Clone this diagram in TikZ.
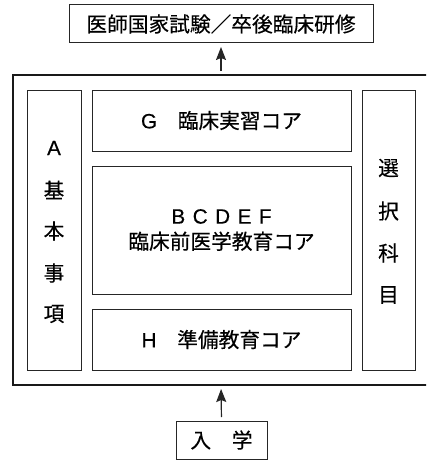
\documentclass[tikz,border=0pt]{standalone}
\usepackage{fontspec}
\setmainfont{Noto Sans CJK JP}[FakeBold=0.35]
\newfontfamily\lat{Liberation Sans}[FakeBold=0.35]
\usetikzlibrary{arrows.meta}
\begin{document}
\begin{tikzpicture}[x=1pt,y=-1pt,
  box/.style={draw=black!85, line width=1pt, rectangle, inner sep=0pt, outer sep=0pt,
    font=\fontsize{20.7}{25.5}\selectfont, align=center},
  outerbox/.style={draw=black!90, line width=2pt, rectangle, inner sep=0pt, outer sep=0pt},
  ch/.style={inner sep=0pt, outer sep=0pt, font=\fontsize{20.7}{24}\selectfont},
  arr/.style={draw=black!85, line width=1.2pt, -{Stealth[length=13pt,width=10pt,inset=2pt]},
    shorten >=4pt, shorten <=4pt}]
\useasboundingbox (0,0) rectangle (426,460);
\clip (0,0) rectangle (426,460);
% boxes
\node[box, minimum width=304pt, minimum height=38pt] (top) at (221,24) {医師国家試験／卒後臨床研修};
\node[outerbox, minimum width=416pt, minimum height=310pt] (outer) at (221,230) {};
\node[box, minimum width=54pt, minimum height=280pt] (left) at (54,230) {};
\node[box, minimum width=53pt, minimum height=280pt] (right) at (388.5,230) {};
\node[box, minimum width=259pt, minimum height=61pt] (G) at (221.5,120.5) {{\lat G}　臨床実習コア};
\node[box, minimum width=259pt, minimum height=128pt] (core) at (221.5,230)
  {{\lat B\hspace{7.5pt}C\hspace{7.5pt}D\hspace{7.5pt}E\hspace{7.5pt}F}\\臨床前医学教育コア};
\node[box, minimum width=259pt, minimum height=61pt] (H) at (221.5,339.5) {{\lat H}　準備教育コア};
\node[box, minimum width=91pt, minimum height=38pt] (bot) at (221.5,440) {入　学};
% left column text
\node[ch] (a1) at (54,148) {\lat A};
\node[ch] (a2) at (54,190) {基};
\node[ch] (a3) at (54,231) {本};
\node[ch] (a4) at (54,273) {事};
\node[ch] (a5) at (54,314) {項};
% right column text
\node[ch] (r1) at (388.5,168) {選};
\node[ch] (r2) at (388.5,211) {択};
\node[ch] (r3) at (388.5,253) {科};
\node[ch] (r4) at (388.5,295) {目};
% arrows
\draw[arr] (outer.north) -- (top.south);
\draw[arr] (bot.north) -- (outer.south);
\end{tikzpicture}
\end{document}
